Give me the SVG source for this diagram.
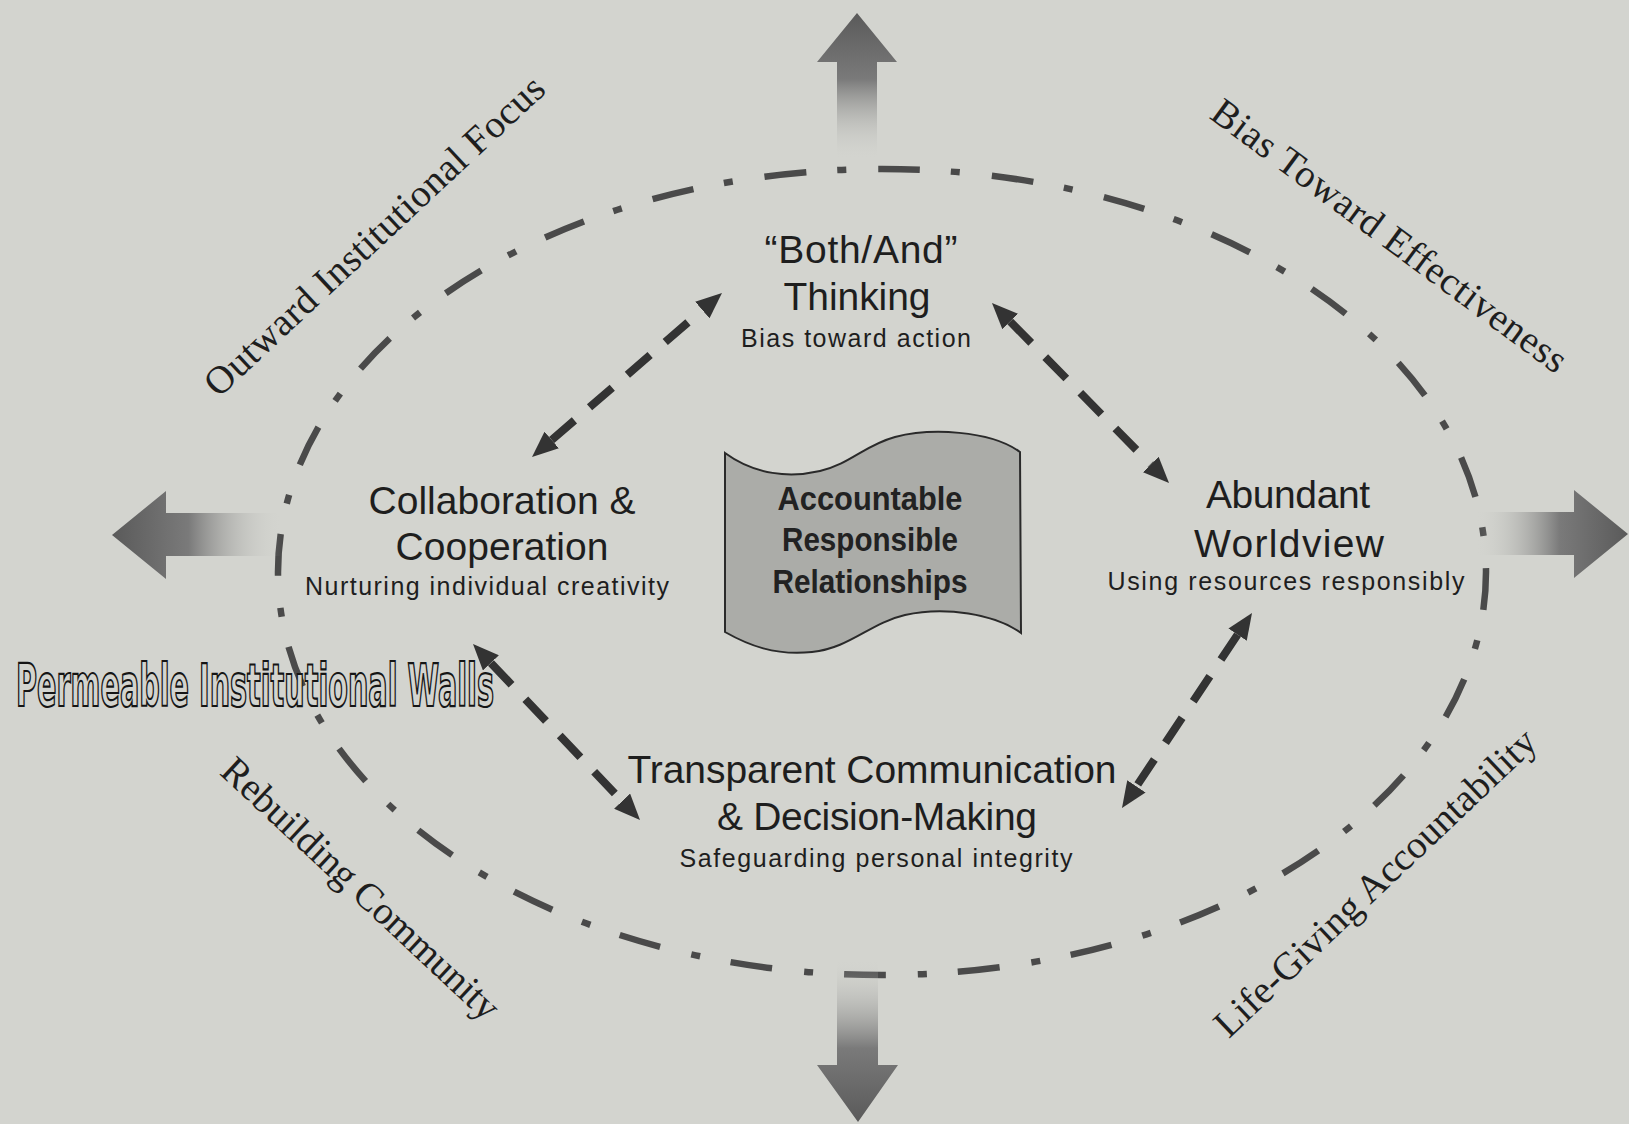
<svg xmlns="http://www.w3.org/2000/svg" width="1629" height="1124" viewBox="0 0 1629 1124">
<style>
.title{font-family:"Liberation Sans",Arial,sans-serif;font-size:39px;fill:#1e1e1e;text-anchor:middle}
.sub{font-family:"Liberation Sans",Arial,sans-serif;font-size:25px;fill:#1e1e1e;text-anchor:middle}
.center{font-family:"Liberation Sans",Arial,sans-serif;font-size:34px;font-weight:bold;fill:#222;text-anchor:middle}
.diag{font-family:"Liberation Serif","Times New Roman",serif;font-size:39px;fill:#1e1e1e;text-anchor:middle}
.conn{fill:none;stroke:#333;stroke-width:8;stroke-dasharray:30 20}
.ring{fill:none;stroke:#4a4a4a;stroke-width:6.5;stroke-dasharray:42 31 9 32.1;stroke-dashoffset:4}
</style>
<defs>
<marker id="head" markerUnits="userSpaceOnUse" viewBox="0 0 26 22" refX="0" refY="11" markerWidth="26" markerHeight="22" orient="auto-start-reverse">
<path d="M0,0 L26,11 L0,22 Z" fill="#333"/>
</marker>
<linearGradient id="gTop" gradientUnits="userSpaceOnUse" x1="0" y1="13" x2="0" y2="160">
<stop offset="0" stop-color="#5a5a5a"/><stop offset="0.45" stop-color="#7a7a7a"/><stop offset="1" stop-color="#d3d4cf" stop-opacity="0"/>
</linearGradient>
<linearGradient id="gBot" gradientUnits="userSpaceOnUse" x1="0" y1="1122" x2="0" y2="958">
<stop offset="0" stop-color="#5a5a5a"/><stop offset="0.45" stop-color="#7a7a7a"/><stop offset="1" stop-color="#d3d4cf" stop-opacity="0"/>
</linearGradient>
<linearGradient id="gLeft" gradientUnits="userSpaceOnUse" x1="112" y1="0" x2="282" y2="0">
<stop offset="0" stop-color="#5a5a5a"/><stop offset="0.45" stop-color="#7a7a7a"/><stop offset="1" stop-color="#d3d4cf" stop-opacity="0"/>
</linearGradient>
<linearGradient id="gRight" gradientUnits="userSpaceOnUse" x1="1628" y1="0" x2="1476" y2="0">
<stop offset="0" stop-color="#5a5a5a"/><stop offset="0.45" stop-color="#7a7a7a"/><stop offset="1" stop-color="#d3d4cf" stop-opacity="0"/>
</linearGradient>
</defs>
<rect x="0" y="0" width="1629" height="1124" fill="#d3d4cf"/>

<g id="ring">
<path class="ring" d="M882,169 A604,403 0 1 1 882,975 A604,403 0 1 1 882,169"/>
</g>

<g id="big-arrows">
<polygon id="arrow-up" points="857,13 897,62 877,62 877,160 837,160 837,62 817,62" fill="url(#gTop)"/>
<polygon id="arrow-down" points="858,1122 898,1065 878,1065 878,958 837,958 837,1065 817,1065" fill="url(#gBot)"/>
<polygon id="arrow-left" points="112,535 166,491 166,513 282,513 282,556 166,556 166,579" fill="url(#gLeft)"/>
<polygon id="arrow-right" points="1628,534 1574,490 1574,512 1476,512 1476,555 1574,555 1574,578" fill="url(#gRight)"/>
</g>

<g id="connectors">
<line class="conn" x1="551.7" y1="440" x2="702.3" y2="310" marker-start="url(#head)" marker-end="url(#head)"/>
<line class="conn" x1="1010.2" y1="321.5" x2="1150.8" y2="464.5" marker-start="url(#head)" marker-end="url(#head)"/>
<line class="conn" x1="490.9" y1="662.9" x2="622.1" y2="801.1" marker-start="url(#head)" marker-end="url(#head)"/>
<line class="conn" x1="1237.6" y1="634.6" x2="1136.4" y2="786.4" marker-start="url(#head)" marker-end="url(#head)"/>
</g>

<g id="node-center">
<path d="M725,453 C755,475 790,478 820,471 C850,464 865,445 895,437 C930,428 990,430 1020,452 L1021,633 C995,614 945,606 905,615 C870,623 850,648 812,652 C775,656 748,645 725,632 Z" fill="#abaca8" stroke="#2a2a2a" stroke-width="2"/>
<text class="center" x="870" y="510" textLength="185" lengthAdjust="spacingAndGlyphs">Accountable</text>
<text class="center" x="870" y="551" textLength="176" lengthAdjust="spacingAndGlyphs">Responsible</text>
<text class="center" x="870" y="593" textLength="195" lengthAdjust="spacingAndGlyphs">Relationships</text>
</g>

<g id="node-both-and">
<text class="title" x="861" y="263" textLength="193">“Both/And”</text>
<text class="title" x="857" y="310" textLength="147">Thinking</text>
<text class="sub" x="856" y="347" textLength="230">Bias toward action</text>
</g>

<g id="node-collaboration">
<text class="title" x="502" y="514" textLength="267">Collaboration &amp;</text>
<text class="title" x="502" y="560" textLength="213">Cooperation</text>
<text class="sub" x="487" y="595" textLength="364">Nurturing individual creativity</text>
</g>

<g id="node-abundant">
<text class="title" x="1288" y="508" textLength="164">Abundant</text>
<text class="title" x="1289" y="557" textLength="190">Worldview</text>
<text class="sub" x="1286" y="590" textLength="357">Using resources responsibly</text>
</g>

<g id="node-transparent">
<text class="title" x="872" y="783" textLength="489">Transparent Communication</text>
<text class="title" x="877" y="830" textLength="320">&amp; Decision-Making</text>
<text class="sub" x="876" y="867" textLength="393">Safeguarding personal integrity</text>
</g>

<g id="labels">
<text class="diag" transform="translate(383,245) rotate(-43)" textLength="450">Outward Institutional Focus</text>
<text class="diag" transform="translate(1382,246) rotate(36.5)" textLength="432">Bias Toward Effectiveness</text>
<text class="diag" transform="translate(352,898) rotate(43)" textLength="365">Rebuilding Community</text>
<text class="diag" transform="translate(1384,892) rotate(-43.5)" textLength="428">Life-Giving Accountability</text>
<text x="16" y="706" font-family="'Liberation Sans Narrow','DejaVu Sans Condensed','Liberation Sans',sans-serif" font-size="58" font-weight="bold" fill="#d3d4cf" stroke="#151515" stroke-width="2.2" textLength="478" lengthAdjust="spacingAndGlyphs">Permeable Institutional Walls</text>
</g>
</svg>
